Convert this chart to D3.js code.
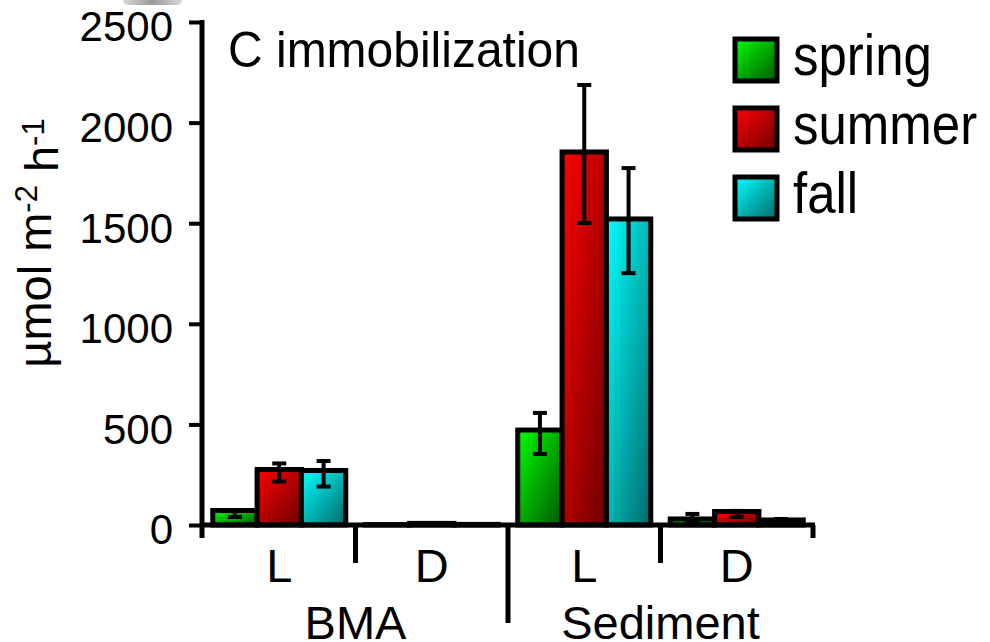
<!DOCTYPE html>
<html>
<head>
<meta charset="utf-8">
<script src="https://cdn.jsdelivr.net/npm/d3@7"></script>
<style>
  html, body { margin: 0; padding: 0; background: #fff; }
  svg { display: block; font-family: "Liberation Sans", Arial, sans-serif; }
</style>
</head>
<body>
<svg id="chart" width="990" height="642"></svg>
<script>
// categories
const groups = ["BMA", "Sediment"];
const types = ["L", "D"];
const seasons = ["spring", "summer", "fall"];
const yTicks = [0, 500, 1000, 1500, 2000, 2500];

// values, order: BMA L, BMA D, Sediment L, Sediment D
const springMean = [72, 2, 472, 30];
const springLow = [40, 2, 353, 20];
const springHigh = [72, 2, 557, 55];

const summerMean = [276, 8, 1854, 67];
const summerLow = [216, 8, 1501, 40];
const summerHigh = [306, 8, 2187, 70];

const fallMean = [271, 3, 1521, 25];
const fallLow = [191, 3, 1252, 15];
const fallHigh = [318, 3, 1774, 30];

const seasonColors = {
  spring: ["#00ff00", "#005800"],
  summer: ["#ff0000", "#6c0000"],
  fall: ["#00ffff", "#006a6a"]
};

const cats = [];
groups.forEach(g => types.forEach(t => cats.push(g + "|" + t)));

const series = [
  { key: "spring", mean: springMean, low: springLow, high: springHigh },
  { key: "summer", mean: summerMean, low: summerLow, high: summerHigh },
  { key: "fall", mean: fallMean, low: fallLow, high: fallHigh }
];

const data = [];
series.forEach(s => {
  cats.forEach((c, i) => {
    data.push({ cat: c, season: s.key, value: s.mean[i], lo: s.low[i], hi: s.high[i] });
  });
});

const svg = d3.select("#chart");

const y = d3.scaleLinear().domain([0, 2500]).range([525, 22]);
const x0 = d3.scaleBand().domain(cats).range([203, 813]);
const clusterW = 133;
const x1 = d3.scaleBand().domain(seasons).range([0, clusterW]);
const barX = d => x0(d.cat) + (x0.bandwidth() - clusterW) / 2 + x1(d.season);

// gradients
const defs = svg.append("defs");
seasons.forEach(s => {
  const g = defs.append("linearGradient")
    .attr("id", "grad-" + s)
    .attr("x1", 0).attr("y1", 0).attr("x2", 1).attr("y2", 1);
  g.append("stop").attr("offset", "0%").attr("stop-color", seasonColors[s][0]);
  g.append("stop").attr("offset", "100%").attr("stop-color", seasonColors[s][1]);
});
const blob = defs.append("linearGradient").attr("id", "blob")
  .attr("x1", 0).attr("x2", 1).attr("y1", 0).attr("y2", 0);
blob.append("stop").attr("offset", "0%").attr("stop-color", "#d8d8d8");
blob.append("stop").attr("offset", "50%").attr("stop-color", "#9a9a9a");
blob.append("stop").attr("offset", "100%").attr("stop-color", "#d8d8d8");

// small grey remnant at the top edge
svg.append("rect")
  .attr("x", 123).attr("y", -7).attr("width", 59).attr("height", 12)
  .attr("rx", 5).attr("fill", "url(#blob)");

// bars
svg.append("g")
  .selectAll("rect")
  .data(data)
  .join("rect")
  .attr("x", barX)
  .attr("y", d => y(d.value))
  .attr("width", x1.bandwidth())
  .attr("height", d => y(0) - y(d.value))
  .attr("fill", d => `url(#grad-${d.season})`)
  .attr("stroke", "#000")
  .attr("stroke-width", 5);

// error bars
const errs = svg.append("g")
  .attr("stroke", "#000")
  .attr("stroke-width", 4)
  .selectAll("g")
  .data(data.filter(d => d.hi !== d.lo))
  .join("g")
  .attr("transform", d => `translate(${barX(d) + x1.bandwidth() / 2},0)`);
errs.append("line")
  .attr("y1", d => y(d.hi)).attr("y2", d => y(d.lo));
errs.append("line")
  .attr("x1", -7).attr("x2", 7)
  .attr("y1", d => y(d.hi)).attr("y2", d => y(d.hi));
errs.append("line")
  .attr("x1", -7).attr("x2", 7)
  .attr("y1", d => y(d.lo)).attr("y2", d => y(d.lo));

// y axis
const yAxis = svg.append("g")
  .attr("transform", "translate(202,0)")
  .call(d3.axisLeft(y).tickValues(yTicks).tickSize(13).tickPadding(16).tickFormat(d3.format("d")));
yAxis.select(".domain").remove();
yAxis.selectAll(".tick line").attr("stroke", "#000").attr("stroke-width", 4);
yAxis.selectAll(".tick text")
  .attr("fill", "#000")
  .attr("font-size", 42)
  .attr("dy", "0.45em")
  .attr("font-family", "Liberation Sans, Arial, sans-serif");
svg.append("line")
  .attr("x1", 202).attr("x2", 202)
  .attr("y1", y(2500) - 2).attr("y2", y(0) + 13)
  .attr("stroke", "#000").attr("stroke-width", 5);

// x axis line
svg.append("line")
  .attr("x1", 202).attr("x2", 815)
  .attr("y1", y(0)).attr("y2", y(0))
  .attr("stroke", "#000").attr("stroke-width", 5);

// category dividers
const bounds = cats.slice(1).map(c => x0(c)).concat([x0.range()[1]]);
svg.append("g")
  .selectAll("line")
  .data(bounds)
  .join("line")
  .attr("x1", d => d).attr("x2", d => d)
  .attr("y1", y(0))
  .attr("y2", (d, i) => i === bounds.length - 1 ? y(0) + 13 : i === 1 ? 623 : 563)
  .attr("stroke", "#000").attr("stroke-width", 5);

// L / D labels
svg.append("g")
  .selectAll("text")
  .data(cats)
  .join("text")
  .attr("x", d => x0(d) + x0.bandwidth() / 2)
  .attr("y", 582)
  .attr("text-anchor", "middle")
  .attr("font-size", 47)
  .text(d => d.split("|")[1]);

// group labels
svg.append("g")
  .selectAll("text")
  .data(groups)
  .join("text")
  .attr("x", g => x0(g + "|L") + x0.bandwidth())
  .attr("y", 639)
  .attr("text-anchor", "middle")
  .attr("font-size", 47)
  .text(g => g);

// y axis title
const yt = svg.append("text")
  .attr("transform", "translate(51,243) rotate(-90)")
  .attr("text-anchor", "middle")
  .attr("font-size", 47);
yt.append("tspan").text("µmol m");
yt.append("tspan").attr("dy", "-0.45em").attr("font-size", 31).text("-2");
yt.append("tspan").attr("dy", "0.45em").text(" h");
yt.append("tspan").attr("dy", "-0.45em").attr("font-size", 31).text("-1");

// panel title
svg.append("text")
  .attr("transform", "translate(228,67) scale(1,1.04)")
  .attr("font-size", 48)
  .text("C immobilization");

// legend
const legend = svg.append("g")
  .selectAll("g")
  .data(seasons)
  .join("g")
  .attr("transform", (d, i) => `translate(735,${39 + i * 69})`);
legend.append("rect")
  .attr("width", 42).attr("height", 42)
  .attr("fill", d => `url(#grad-${d})`)
  .attr("stroke", "#000").attr("stroke-width", 5);
legend.append("text")
  .attr("transform", "translate(58,36) scale(1,1.12)")
  .attr("font-size", 51)
  .text(d => d);
</script>
</body>
</html>
